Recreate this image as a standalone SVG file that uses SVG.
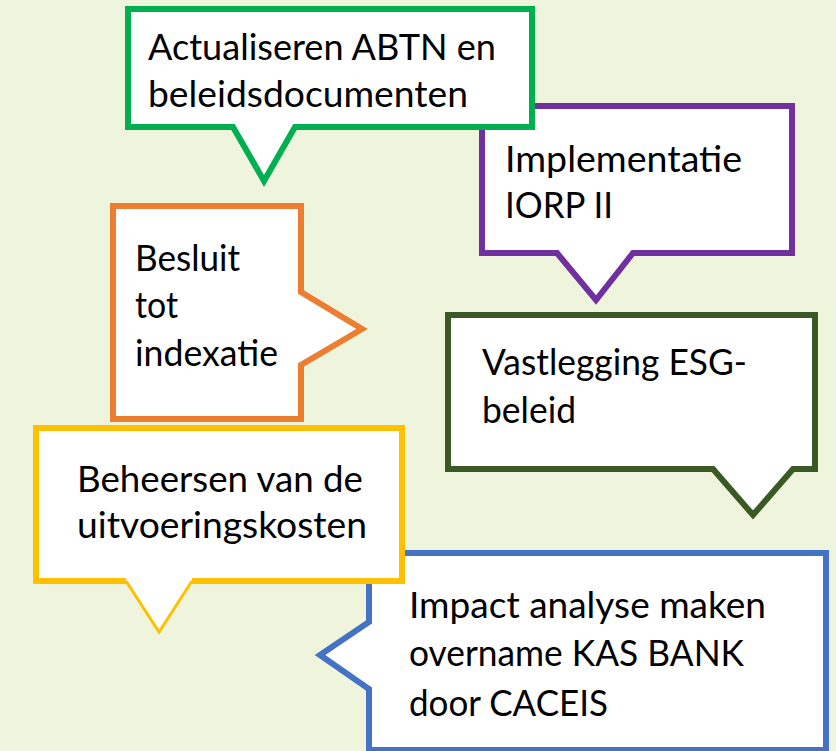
<svg xmlns="http://www.w3.org/2000/svg" width="836" height="751" viewBox="0 0 836 751">
<style>
.box{fill:#ffffff;stroke-width:6;stroke-linejoin:miter;stroke-miterlimit:10}
.t{font-family:Lato,"Open Sans","Liberation Sans",sans-serif;font-size:36px;fill:#000000}
</style>
<rect x="0" y="0" width="836" height="751" fill="#EFF5DD"/>
<g id="connectors"/>
<g id="node-iorp">
<path class="box" stroke="#7030A0" d="M482,106 L792,106 L792,253 L633,253 L596,300 L557,253 L482,253 Z"/>
<text class="t" x="505" y="172" textLength="237" lengthAdjust="spacingAndGlyphs">Implementatie</text>
<text class="t" x="505" y="218" textLength="108" lengthAdjust="spacingAndGlyphs">IORP II</text>
</g>
<g id="node-abtn">
<path class="box" stroke="#00B050" d="M128,9 L532,9 L532,127 L295,127 L264,181 L233,127 L128,127 Z"/>
<text class="t" x="148" y="60" textLength="348" lengthAdjust="spacingAndGlyphs">Actualiseren ABTN en</text>
<text class="t" x="148" y="107" textLength="320" lengthAdjust="spacingAndGlyphs">beleidsdocumenten</text>
</g>
<g id="node-indexatie">
<path class="box" stroke="#ED7D31" d="M113,206 L301,206 L301,292 L362,329 L301,365 L301,419 L113,419 Z"/>
<text class="t" x="135" y="271" textLength="105" lengthAdjust="spacingAndGlyphs">Besluit</text>
<text class="t" x="135" y="318" textLength="43" lengthAdjust="spacingAndGlyphs">tot</text>
<text class="t" x="135" y="366" textLength="143" lengthAdjust="spacingAndGlyphs">indexatie</text>
</g>
<g id="node-esg">
<path class="box" stroke="#3B5A23" stroke-width="6.5" d="M448,315 L815,315 L815,469 L793,469 L753,515 L713,469 L448,469 Z"/>
<text class="t" x="482" y="375" textLength="265" lengthAdjust="spacingAndGlyphs">Vastlegging ESG-</text>
<text class="t" x="482" y="423" textLength="94" lengthAdjust="spacingAndGlyphs">beleid</text>
</g>
<g id="node-caceis">
<path class="box" stroke="#4472C4" d="M369,553 L826,553 L826,750 L369,750 L369,689 L320,655 L369,622 Z"/>
<text class="t" x="409" y="618" textLength="357" lengthAdjust="spacingAndGlyphs">Impact analyse maken</text>
<text class="t" x="409" y="666" textLength="335" lengthAdjust="spacingAndGlyphs">overname KAS BANK</text>
<text class="t" x="409" y="716" textLength="199" lengthAdjust="spacingAndGlyphs">door CACEIS</text>
</g>
<g id="node-kosten">
<path fill="#ffffff" stroke="none" d="M36,428 L402,428 L402,581 L192,581 L159,632 L126,581 L36,581 Z"/>
<path fill="none" stroke="#FFC000" stroke-width="6" stroke-linejoin="miter" d="M126,581 L36,581 L36,428 L402,428 L402,581 L192,581"/>
<path fill="none" stroke="#FFC000" stroke-width="3" stroke-linejoin="miter" d="M126,581 L159,632 L192,581"/>
<text class="t" x="77" y="492" textLength="286" lengthAdjust="spacingAndGlyphs">Beheersen van de</text>
<text class="t" x="77" y="538" textLength="290" lengthAdjust="spacingAndGlyphs">uitvoeringskosten</text>
</g>
</svg>
